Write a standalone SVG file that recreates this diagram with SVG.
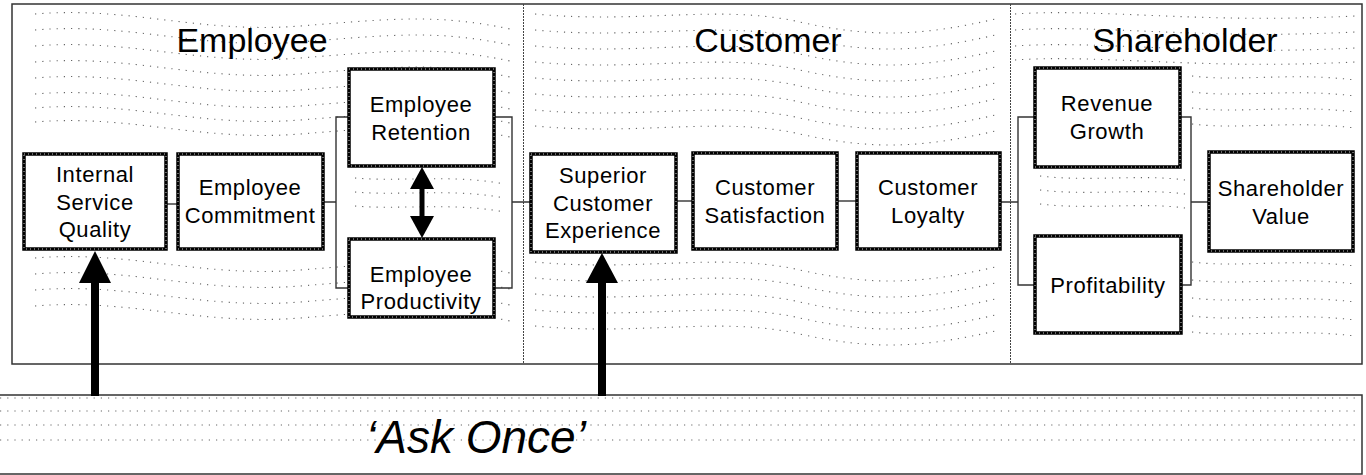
<svg xmlns="http://www.w3.org/2000/svg" xmlns:xlink="http://www.w3.org/1999/xlink" width="1366" height="475" viewBox="0 0 1366 475">
  <style>
    .frame { fill: none; stroke: #333; stroke-width: 1.5; }
    .divider { fill: none; stroke: #444; stroke-width: 1; stroke-dasharray: 2 1; }
    .dots { fill: none; stroke: #666; stroke-width: 1.1; stroke-dasharray: 1.2 6; }
    .box { fill: #fff; stroke: #000; stroke-width: 3.5; }
    .speck { fill: none; stroke: #fff; stroke-width: 0.8; stroke-dasharray: 1 3; }
    .link { fill: none; stroke: #333; stroke-width: 1.4; }
    .label { font-family: "Liberation Sans", Arial, sans-serif; font-size: 22px; letter-spacing: 0.6px; fill: #000; text-anchor: middle; }
    .title { font-family: "Liberation Sans", Arial, sans-serif; font-size: 34px; fill: #000; text-anchor: middle; }
    .slogan { font-family: "Liberation Sans", Arial, sans-serif; font-size: 46px; font-style: italic; fill: #000; text-anchor: middle; }
    .arrow { fill: #000; stroke: none; }
  </style>
  <defs>
    <!-- dotted wave rows used as background texture -->
    <path id="waveE" d="M35,0 C130,-8 200,20 300,12 S440,0 515,16"/>
    <path id="waveC" d="M535,0 C640,10 720,-10 800,8 S930,20 1000,4"/>
    <path id="waveSTop" d="M1015,0 C1100,-6 1200,10 1355,2"/>
    <path id="waveSR" d="M1192,0 C1240,6 1290,-4 1355,4"/>
    <path id="waveMidE" d="M355,0 C400,4 450,-4 505,6"/>
    <path id="waveMidS" d="M1040,0 C1090,6 1140,-2 1185,4"/>
    <path id="bandRow" d="M0,0 H1360"/>
  </defs>

  <!-- white page -->
  <rect x="0" y="0" width="1366" height="475" fill="#fff"/>

  <!-- background texture -->
  <g id="texture" class="dots">
    <use xlink:href="#waveE" y="14"/>
    <use xlink:href="#waveE" y="30"/>
    <use xlink:href="#waveE" y="46"/>
    <use xlink:href="#waveE" y="62"/>
    <use xlink:href="#waveE" y="78"/>
    <use xlink:href="#waveE" y="94"/>
    <use xlink:href="#waveE" y="108"/>
    <use xlink:href="#waveE" y="122"/>
    <use xlink:href="#waveE" y="258"/>
    <use xlink:href="#waveE" y="274"/>
    <use xlink:href="#waveE" y="290"/>
    <use xlink:href="#waveE" y="306"/>
    <use xlink:href="#waveMidE" y="178"/>
    <use xlink:href="#waveMidE" y="192"/>
    <use xlink:href="#waveMidE" y="206"/>

    <use xlink:href="#waveC" y="14"/>
    <use xlink:href="#waveC" y="30"/>
    <use xlink:href="#waveC" y="46"/>
    <use xlink:href="#waveC" y="62"/>
    <use xlink:href="#waveC" y="78"/>
    <use xlink:href="#waveC" y="94"/>
    <use xlink:href="#waveC" y="110"/>
    <use xlink:href="#waveC" y="126"/>
    <use xlink:href="#waveC" y="262"/>
    <use xlink:href="#waveC" y="278"/>
    <use xlink:href="#waveC" y="294"/>
    <use xlink:href="#waveC" y="310"/>
    <use xlink:href="#waveC" y="326"/>

    <use xlink:href="#waveSTop" y="14"/>
    <use xlink:href="#waveSTop" y="30"/>
    <use xlink:href="#waveSTop" y="46"/>
    <use xlink:href="#waveSTop" y="60"/>
    <use xlink:href="#waveSR" y="76"/>
    <use xlink:href="#waveSR" y="92"/>
    <use xlink:href="#waveSR" y="108"/>
    <use xlink:href="#waveSR" y="124"/>
    <use xlink:href="#waveSR" y="262"/>
    <use xlink:href="#waveSR" y="280"/>
    <use xlink:href="#waveSR" y="298"/>
    <use xlink:href="#waveSR" y="316"/>
    <use xlink:href="#waveSR" y="332"/>
    <use xlink:href="#waveMidS" y="176"/>
    <use xlink:href="#waveMidS" y="190"/>
    <use xlink:href="#waveMidS" y="204"/>

    <use xlink:href="#bandRow" y="398"/>
    <use xlink:href="#bandRow" y="411"/>
    <use xlink:href="#bandRow" y="425"/>
    <use xlink:href="#bandRow" y="440"/>
  </g>

  <!-- outer frame, stage dividers and bottom band -->
  <g id="frame">
    <rect class="frame" x="12" y="4" width="1350" height="360"/>
    <line class="divider" x1="523.5" y1="4" x2="523.5" y2="364"/>
    <line class="divider" x1="1010.5" y1="4" x2="1010.5" y2="364"/>
    <rect class="frame" x="-2" y="395" width="1364" height="79"/>
  </g>

  <!-- section titles -->
  <g id="titles">
    <text class="title" x="252" y="52">Employee</text>
    <text class="title" x="768" y="52">Customer</text>
    <text class="title" x="1185" y="52">Shareholder</text>
  </g>

  <!-- connectors -->
  <g id="connectors">
    <path class="link" d="M167,204 H177"/>
    <path class="link" d="M323,202 H336 M349,117 H336 V288 H349"/>
    <path class="link" d="M494,117 H512 V288 H494 M512,202 H531"/>
    <path class="link" d="M676,201 H693"/>
    <path class="link" d="M837,201 H857"/>
    <path class="link" d="M1000,202 H1018 M1035,117 H1018 V285 H1035"/>
    <path class="link" d="M1180,117 H1191 V285 H1181 M1191,202 H1209"/>
    <!-- retention / productivity two-way arrow -->
    <g id="edge-retention-productivity">
      <rect class="arrow" x="419.5" y="186" width="5" height="33"/>
      <polygon class="arrow" points="422,167 410,189 434,189"/>
      <polygon class="arrow" points="422,238 410,216 434,216"/>
    </g>
    <!-- 'Ask Once' feeds -->
    <g id="edge-ask-isq">
      <rect class="arrow" x="91" y="280" width="8" height="116"/>
      <polygon class="arrow" points="95,251 79,283 111,283"/>
    </g>
    <g id="edge-ask-sce">
      <rect class="arrow" x="598" y="280" width="8" height="116"/>
      <polygon class="arrow" points="602,253 586,283 618,283"/>
    </g>
  </g>

  <!-- nodes -->
  <g id="node-internal-service-quality">
    <rect class="box" x="24" y="154" width="142" height="95"/>
    <rect class="speck" x="24" y="154" width="142" height="95"/>
    <text class="label" x="95" y="182">Internal</text>
    <text class="label" x="95" y="210">Service</text>
    <text class="label" x="95" y="237">Quality</text>
  </g>
  <g id="node-employee-commitment">
    <rect class="box" x="178" y="154" width="145" height="95"/>
    <rect class="speck" x="178" y="154" width="145" height="95"/>
    <text class="label" x="250" y="195">Employee</text>
    <text class="label" x="250" y="223">Commitment</text>
  </g>
  <g id="node-employee-retention">
    <rect class="box" x="349" y="69" width="145" height="97"/>
    <rect class="speck" x="349" y="69" width="145" height="97"/>
    <text class="label" x="421" y="112">Employee</text>
    <text class="label" x="421" y="140">Retention</text>
  </g>
  <g id="node-employee-productivity">
    <rect class="box" x="349" y="239" width="145" height="78"/>
    <rect class="speck" x="349" y="239" width="145" height="78"/>
    <text class="label" x="421" y="282">Employee</text>
    <text class="label" x="421" y="309">Productivity</text>
  </g>
  <g id="node-superior-customer-experience">
    <rect class="box" x="531" y="154" width="145" height="98"/>
    <rect class="speck" x="531" y="154" width="145" height="98"/>
    <text class="label" x="603" y="183">Superior</text>
    <text class="label" x="603" y="211">Customer</text>
    <text class="label" x="603" y="238">Experience</text>
  </g>
  <g id="node-customer-satisfaction">
    <rect class="box" x="693" y="153" width="144" height="96"/>
    <rect class="speck" x="693" y="153" width="144" height="96"/>
    <text class="label" x="765" y="195">Customer</text>
    <text class="label" x="765" y="223">Satisfaction</text>
  </g>
  <g id="node-customer-loyalty">
    <rect class="box" x="857" y="153" width="143" height="96"/>
    <rect class="speck" x="857" y="153" width="143" height="96"/>
    <text class="label" x="928" y="195">Customer</text>
    <text class="label" x="928" y="223">Loyalty</text>
  </g>
  <g id="node-revenue-growth">
    <rect class="box" x="1035" y="68" width="145" height="99"/>
    <rect class="speck" x="1035" y="68" width="145" height="99"/>
    <text class="label" x="1107" y="111">Revenue</text>
    <text class="label" x="1107" y="139">Growth</text>
  </g>
  <g id="node-profitability">
    <rect class="box" x="1035" y="236" width="146" height="97"/>
    <rect class="speck" x="1035" y="236" width="146" height="97"/>
    <text class="label" x="1108" y="293">Profitability</text>
  </g>
  <g id="node-shareholder-value">
    <rect class="box" x="1209" y="152" width="144" height="99"/>
    <rect class="speck" x="1209" y="152" width="144" height="99"/>
    <text class="label" x="1281" y="196">Shareholder</text>
    <text class="label" x="1281" y="224">Value</text>
  </g>

  <!-- bottom band caption -->
  <g id="node-ask-once">
    <text class="slogan" x="476" y="453">‘Ask Once’</text>
  </g>
</svg>
